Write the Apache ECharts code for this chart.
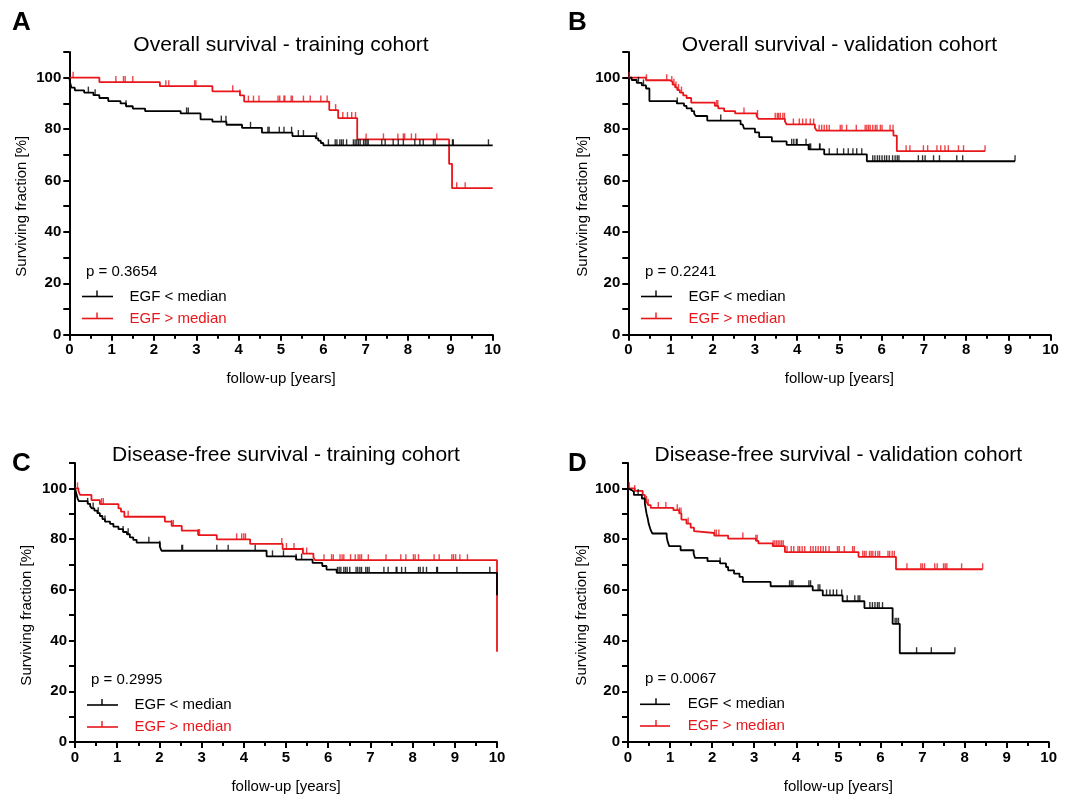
<!DOCTYPE html>
<html>
<head>
<meta charset="utf-8">
<script src="https://cdn.jsdelivr.net/npm/echarts@6/dist/echarts.min.js"></script>
<style>
html,body{margin:0;padding:0;background:#fff;}
#chart{width:1073px;height:796px;}
</style>
</head>
<body>
<div id="chart"></div>
<script>
// ---------- DATA ----------
const xTicks = [0,1,2,3,4,5,6,7,8,9,10];
const yTicks = [0,20,40,60,80,100];

const panelLetters = ['A','B','C','D'];
const panelTitles = [
  'Overall survival - training cohort',
  'Overall survival - validation cohort',
  'Disease-free survival - training cohort',
  'Disease-free survival - validation cohort'
];
const pValues = ['p = 0.3654','p = 0.2241','p = 0.2995','p = 0.0067'];
const seriesNames = ['EGF < median','EGF > median'];

// Panel A - Overall survival, training cohort
const A_low = [[0,100],[0.02,98.0],[0.05,96.1],[0.13,95.1],[0.35,94.2],[0.57,93.2],[0.71,92.1],[0.92,90.9],[1.21,90.0],[1.34,88.9],[1.50,88.0],[1.79,87.0],[2.63,86.1],[3.10,83.8],[3.38,82.9],[3.71,81.7],[4.08,80.5],[4.55,78.6],[5.27,77.3],[5.82,76.4],[5.88,75.5],[5.94,74.6],[6.00,73.7],[10,73.7]];
const A_lowCens = [0.45,0.61,1.34,2.77,2.81,3.59,3.70,4.28,4.69,4.72,4.96,5.07,5.25,5.41,5.53,5.84,6.12,6.28,6.32,6.39,6.43,6.47,6.55,6.71,6.75,6.79,6.83,6.87,6.95,6.99,7.03,7.06,7.38,7.46,7.65,7.77,7.89,8.16,8.28,8.36,8.60,8.64,9.05,9.07,9.90];
const A_high = [[0,100],[0.71,98.3],[2.14,96.7],[3.38,94.7],[4.03,93.1],[4.13,90.7],[6.14,87.4],[6.35,84.3],[6.80,76.0],[8.97,66.5],[9.04,57.0],[10,57.0]];
const A_highCens = [0.09,1.10,1.28,1.32,1.50,2.28,2.35,2.96,2.99,3.86,4.03,4.23,4.35,4.48,4.93,4.97,5.07,5.09,5.24,5.27,5.53,5.69,5.94,6.09,6.29,6.46,6.57,6.67,6.76,7.01,7.42,7.76,7.89,7.92,8.08,8.18,8.68,9.15,9.35];

// Panel B - Overall survival, validation cohort
const B_low = [[0,100],[0.08,99.1],[0.20,98.0],[0.32,97.0],[0.42,95.8],[0.50,90.9],[1.15,90.0],[1.32,89.0],[1.38,88.1],[1.50,87.0],[1.56,86.0],[1.60,85.1],[1.87,83.3],[2.66,81.8],[2.71,81.1],[2.74,80.2],[3.00,78.7],[3.10,76.9],[3.40,75.2],[3.75,73.9],[4.27,72.1],[4.64,70.2],[5.65,67.5],[9.16,67.5]];
const B_lowCens = [0.24,0.36,1.16,2.19,3.87,3.92,3.98,4.00,4.21,4.29,4.32,4.53,4.54,4.76,4.95,5.10,5.21,5.32,5.41,5.53,5.79,5.84,5.90,5.95,6.01,6.07,6.12,6.18,6.26,6.32,6.37,6.41,6.87,6.97,7.03,7.23,7.37,7.78,7.92,9.16];
const B_high = [[0,100],[0.42,99.0],[0.99,98.3],[1.05,97.3],[1.11,96.2],[1.16,95.2],[1.22,94.2],[1.30,93.1],[1.38,92.1],[1.49,90.3],[2.05,89.0],[2.13,88.1],[2.27,87.0],[2.53,86.1],[3.04,85.1],[3.08,84.0],[3.71,83.0],[3.75,81.8],[4.42,80.5],[4.46,79.4],[6.28,77.5],[6.36,71.4],[8.45,71.4]];
const B_highCens = [0.02,0.43,0.91,1.03,1.08,1.13,1.19,1.26,2.09,2.12,2.74,3.06,3.48,3.53,3.56,3.60,3.66,3.70,3.91,4.05,4.13,4.21,4.31,4.39,4.52,4.58,4.64,4.70,4.76,5.02,5.06,5.17,5.40,5.61,5.65,5.69,5.73,5.79,5.85,5.89,5.97,6.01,6.20,6.27,6.58,6.67,6.99,7.09,7.31,7.40,7.50,7.58,7.82,7.94,8.45];

// Panel C - Disease-free survival, training cohort
const C_low = [[0,100],[0.02,98.7],[0.04,97.4],[0.06,96.1],[0.09,95.0],[0.30,93.9],[0.36,92.9],[0.40,92.1],[0.46,91.2],[0.53,90.2],[0.59,89.1],[0.65,87.9],[0.71,86.9],[0.83,86.0],[0.91,84.9],[1.03,83.9],[1.14,82.8],[1.23,81.9],[1.30,80.7],[1.38,79.7],[1.46,78.6],[2.01,77.0],[2.05,75.4],[4.54,73.2],[5.24,71.9],[5.63,70.6],[5.86,69.4],[5.96,68.0],[6.20,66.7],[10,57.9]];
const C_lowCens = [0.30,0.43,0.55,0.71,1.14,1.26,1.75,2.01,2.53,2.55,3.36,3.63,4.27,4.68,4.94,5.24,5.37,6.22,6.26,6.30,6.37,6.41,6.45,6.51,6.66,6.70,6.75,6.79,6.89,6.93,6.97,7.32,7.42,7.61,7.63,7.74,7.83,8.14,8.18,8.25,8.33,8.57,8.59,9.05,9.83];
const C_high = [[0,100],[0.08,99.1],[0.12,97.4],[0.39,95.4],[0.59,93.8],[1.03,92.1],[1.09,90.8],[1.17,88.8],[2.13,86.9],[2.29,85.2],[2.53,83.3],[2.92,81.6],[3.36,79.9],[4.15,78.1],[4.92,76.1],[5.40,74.3],[5.65,72.7],[5.69,71.7],[10,35.6]];
const C_highCens = [0.06,0.63,0.67,1.26,2.29,2.33,2.92,2.95,3.83,3.95,4.00,4.04,4.90,5.01,5.19,5.40,5.49,5.90,6.08,6.12,6.28,6.33,6.37,6.53,6.64,6.71,6.75,6.79,6.95,7.37,7.72,7.84,8.02,8.06,8.14,8.51,8.63,8.93,8.97,9.02,9.12,9.30];

// Panel D - Disease-free survival, validation cohort
const D_low = [[0,100],[0.04,99.3],[0.09,98.7],[0.14,97.4],[0.33,96.0],[0.40,94.1],[0.42,92.1],[0.44,90.1],[0.47,88.1],[0.49,86.2],[0.52,84.6],[0.54,83.5],[0.58,82.2],[0.92,80.9],[0.94,79.2],[0.98,77.2],[1.25,75.6],[1.56,74.3],[1.59,72.6],[1.89,71.3],[2.19,70.4],[2.33,69.0],[2.38,67.7],[2.52,66.4],[2.65,65.1],[2.73,63.1],[3.39,61.4],[4.39,59.8],[4.63,57.8],[5.10,55.5],[5.62,52.8],[6.29,46.6],[6.46,35.0],[7.77,35.0]];
const D_lowCens = [0.24,2.19,3.84,3.88,3.92,4.30,4.34,4.52,4.56,4.72,4.80,4.88,4.96,5.08,5.21,5.39,5.47,5.51,5.75,5.81,5.87,5.93,5.97,6.05,6.35,6.39,6.43,6.86,7.21,7.77];
const D_high = [[0,100],[0.16,99.0],[0.35,97.4],[0.40,96.0],[0.44,94.7],[0.48,93.4],[0.54,92.3],[1.08,91.4],[1.22,90.1],[1.27,87.7],[1.39,86.1],[1.49,84.5],[1.57,83.1],[1.61,82.4],[2.05,81.4],[2.38,80.2],[3.04,79.3],[3.10,78.3],[3.44,77.2],[3.73,74.9],[5.48,73.0],[6.37,68.1],[8.43,68.1]];
const D_highCens = [0.03,0.16,0.44,0.48,0.72,0.90,1.17,1.22,1.26,1.43,2.06,2.10,2.16,2.73,3.04,3.07,3.45,3.49,3.53,3.57,3.61,3.65,3.69,3.78,3.88,3.94,4.04,4.08,4.14,4.20,4.34,4.40,4.46,4.52,4.58,4.64,4.70,4.78,4.98,5.02,5.14,5.34,5.38,5.58,5.62,5.66,5.74,5.78,5.82,5.88,5.94,5.98,6.18,6.22,6.28,6.33,6.63,6.96,7.00,7.05,7.29,7.35,7.50,7.54,7.58,7.93,8.43];

// ---------- LAYOUT ----------
const FONT = 'Liberation Sans, Arial, Helvetica, sans-serif';
const RED = '#e8161b';
const BLACK = '#000000';
const grids = [
  {left:69.3, top:52.0, width:423.4, height:282.7},
  {left:628.3, top:52.0, width:422.2, height:282.7},
  {left:75.0, top:463.0, width:422.0, height:279.0},
  {left:628.0, top:463.0, width:420.7, height:279.0}
];
const curves = [
  [A_low, A_lowCens, A_high, A_highCens],
  [B_low, B_lowCens, B_high, B_highCens],
  [C_low, C_lowCens, C_high, C_highCens],
  [D_low, D_lowCens, D_high, D_highCens]
];
const titleY = [45, 45, 455, 455];
const letterPos = [[12,23],[568,23],[12,464],[568,464]];
const yNameX = [22, 583, 27, 582];
const legendPos = [ // p x, p y, line x1, line x2, tick x, text x, black y, red y
  [86, 271.5, 82, 113, 97, 129.5, 296.5, 318.5],
  [645, 271.5, 641, 672, 656, 688.5, 296.5, 318.5],
  [91, 680, 87, 118, 102, 134.5, 705, 727],
  [645, 679, 640, 670, 656, 687.7, 704.3, 726]
];

function survAt(curve, t){
  let v = curve[0][1];
  for (const p of curve){ if (p[0] <= t) v = p[1]; else break; }
  return v;
}

const xAxes = [], yAxes = [], series = [], graphics = [];
grids.forEach((g, i) => {
  xAxes.push({
    gridIndex:i, type:'value', min:xTicks[0], max:xTicks[xTicks.length-1], interval:1,
    name:'follow-up [years]', nameLocation:'middle', nameGap:37,
    nameTextStyle:{fontFamily:FONT, fontSize:15, color:'#000'},
    axisLine:{show:true, onZero:false, lineStyle:{color:'#000', width:2}},
    axisTick:{show:true, length:6, lineStyle:{color:'#000', width:2}},
    minorTick:{show:true, splitNumber:2, length:4, lineStyle:{color:'#000', width:2}},
    axisLabel:{fontFamily:FONT, fontSize:15, fontWeight:'bold', color:'#000', margin:8,
      formatter: v => xTicks.indexOf(v) >= 0 ? String(v) : ''},
    splitLine:{show:false}
  });
  yAxes.push({
    gridIndex:i, type:'value', min:0, max:110, interval:10,
    axisLine:{show:true, onZero:false, lineStyle:{color:'#000', width:2}},
    axisTick:{show:true, length:6, lineStyle:{color:'#000', width:2}},
    axisLabel:{fontFamily:FONT, fontSize:15, fontWeight:'bold', color:'#000', margin:8,
      formatter: v => yTicks.indexOf(v) >= 0 ? String(v) : ''},
    splitLine:{show:false}
  });
  const [low, lowC, high, highC] = curves[i];
  const pairs = [[high, highC, RED, seriesNames[1]], [low, lowC, BLACK, seriesNames[0]]];
  pairs.forEach(([c, cens, col, nm]) => {
    series.push({
      name:nm, type:'line', xAxisIndex:i, yAxisIndex:i, data:c, step:'end',
      showSymbol:false, symbol:'none', lineStyle:{color:col, width:1.8}, silent:true, z:2
    });
    series.push({
      name:nm, type:'scatter', xAxisIndex:i, yAxisIndex:i,
      data: cens.map(t => [t, survAt(c, t)]),
      symbol:'rect', symbolSize:[1.4, 6], symbolOffset:[0, -3],
      itemStyle:{color:col}, silent:true, z:3
    });
  });

  // texts
  const cx = g.left + g.width/2;
  graphics.push({type:'text', x:letterPos[i][0], y:letterPos[i][1],
    style:{text:panelLetters[i], font:'bold 26px ' + FONT, fill:'#000', textVerticalAlign:'middle', textAlign:'left'}});
  graphics.push({type:'text', x:cx, y:titleY[i],
    style:{text:panelTitles[i], font:'21px ' + FONT, fill:'#000', textAlign:'center', textVerticalAlign:'middle'}});
  const y50 = g.top + g.height * (1 - 50/110);
  graphics.push({type:'text', x:yNameX[i], y:y50, rotation:Math.PI/2,
    style:{text:'Surviving fraction [%]', font:'15px ' + FONT, fill:'#000', textAlign:'center', textVerticalAlign:'middle'}});
  const L = legendPos[i];
  graphics.push({type:'text', x:L[0], y:L[1],
    style:{text:pValues[i], font:'15px ' + FONT, fill:'#000', textAlign:'left', textVerticalAlign:'middle'}});
  [[BLACK, L[6], seriesNames[0]], [RED, L[7], seriesNames[1]]].forEach(([col, yy, nm]) => {
    graphics.push({type:'line', shape:{x1:L[2], y1:yy, x2:L[3], y2:yy}, style:{stroke:col, lineWidth:1.6}});
    graphics.push({type:'line', shape:{x1:L[4], y1:yy, x2:L[4], y2:yy-6}, style:{stroke:col, lineWidth:1.4}});
    graphics.push({type:'text', x:L[5], y:yy,
      style:{text:nm, font:'15px ' + FONT, fill:col, textAlign:'left', textVerticalAlign:'middle'}});
  });
});

const chart = echarts.init(document.getElementById('chart'), null, {renderer:'canvas'});
chart.setOption({
  backgroundColor:'#fff',
  animation:false,
  grid: grids.map(g => ({left:g.left, top:g.top, width:g.width, height:g.height, containLabel:false})),
  xAxis: xAxes,
  yAxis: yAxes,
  series: series,
  graphic: graphics
});
</script>
</body>
</html>
